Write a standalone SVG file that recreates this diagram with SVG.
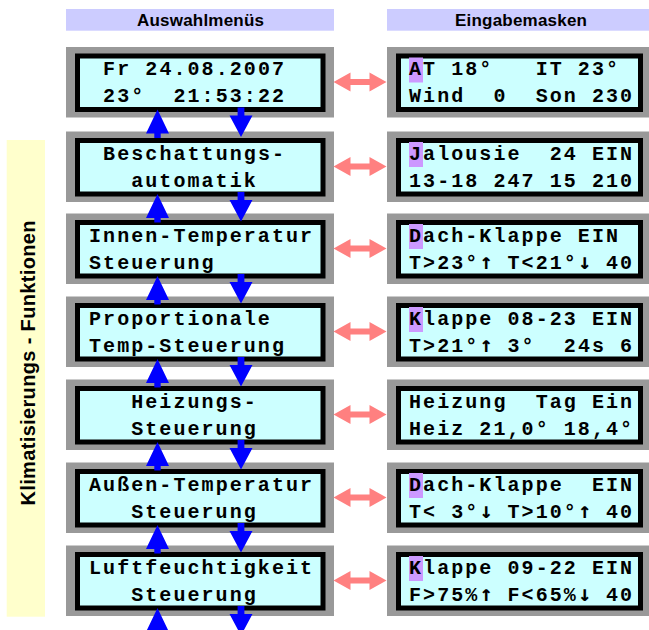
<svg xmlns="http://www.w3.org/2000/svg" xmlns:xlink="http://www.w3.org/1999/xlink" width="649" height="630" viewBox="0 0 649 630">
<style>
.hdr{fill:#CCCCFF}
.hdrt{font-family:"Liberation Sans",Arial,sans-serif;font-weight:bold;font-size:17px;fill:#000;text-anchor:middle}
.side{font-family:"Liberation Sans",Arial,sans-serif;font-weight:bold;font-size:20px;fill:#000;text-anchor:middle}
.gray{fill:#999999}
.lcd{fill:#CCFFFF;stroke:#000;stroke-width:5}
.hl{fill:#CC99FF}
.mono{font-family:"Liberation Mono","Courier New",monospace;font-weight:bold;font-size:20px;letter-spacing:2.07px;fill:#000;white-space:pre}
.ar{font-family:"DejaVu Sans Mono",monospace;font-weight:bold;font-size:22px;letter-spacing:0.83px}
.pink{fill:#FF8080}
.blue{fill:#0000FF}
</style>
<defs>
<path id="up" class="blue" d="M0,0 L11.5,24 L3.2,24 L3.2,28.5 L-3.2,28.5 L-3.2,24 L-11.5,24 Z"/>
<path id="down" class="blue" d="M-3.4,0 L3.4,0 L3.4,8 L11.5,8 L0,29.5 L-11.5,8 L-3.4,8 Z"/>
<path id="dbl" class="pink" d="M333.5,28.5 L350.5,19 L350.5,25.5 L369.5,25.5 L369.5,19 L386.5,28.5 L369.5,38 L369.5,31.5 L350.5,31.5 L350.5,38 Z"/>
</defs>

<g id="header-left"><rect class="hdr" x="66" y="9" width="268" height="21.7"/><text class="hdrt" x="200.5" y="26" textLength="127">Auswahlmenüs</text></g>
<g id="header-right"><rect class="hdr" x="387" y="9" width="262" height="21.7"/><text class="hdrt" x="521" y="26" textLength="132">Eingabemasken</text></g>

<g id="side-label"><rect x="6.7" y="140" width="38.3" height="476.7" fill="#FFFFCC"/><text class="side" transform="translate(34.5,363) rotate(-90)" x="0" y="0" textLength="285">Klimatisierungs - Funktionen</text></g>

<g id="menu1" transform="translate(0,53.5)"><rect class="gray" x="66" y="-6.5" width="268" height="70.5"/><rect class="lcd" x="77.5" y="2.5" width="245.5" height="53.5"/><text class="mono" xml:space="preserve" x="103.1" y="21.5">Fr 24.08.2007</text><text class="mono" xml:space="preserve" x="103.1" y="48.5">23°  21:53:22</text></g>
<g id="mask1" transform="translate(0,53.5)"><rect class="gray" x="387" y="-6.5" width="262" height="70.5"/><rect class="lcd" x="398.5" y="2.5" width="242" height="53.5"/><rect class="hl" x="409" y="4" width="14" height="25"/><text class="mono" xml:space="preserve" x="409" y="21.5">AT 18°   IT 23°</text><text class="mono" xml:space="preserve" x="409" y="48.5">Wind  0  Son 230</text></g>

<g id="menu2" transform="translate(0,138)"><rect class="gray" x="66" y="-6.5" width="268" height="70.5"/><rect class="lcd" x="77.5" y="2.5" width="245.5" height="53.5"/><text class="mono" xml:space="preserve" x="103.1" y="21.5">Beschattungs-</text><text class="mono" xml:space="preserve" x="131.2" y="48.5">automatik</text></g>
<g id="mask2" transform="translate(0,138)"><rect class="gray" x="387" y="-6.5" width="262" height="70.5"/><rect class="lcd" x="398.5" y="2.5" width="242" height="53.5"/><rect class="hl" x="409" y="4" width="14" height="25"/><text class="mono" xml:space="preserve" x="409" y="21.5">Jalousie  24 EIN</text><text class="mono" xml:space="preserve" x="409" y="48.5">13-18 247 15 210</text></g>

<g id="menu3" transform="translate(0,220)"><rect class="gray" x="66" y="-6.5" width="268" height="70.5"/><rect class="lcd" x="77.5" y="2.5" width="245.5" height="53.5"/><text class="mono" xml:space="preserve" x="89" y="21.5">Innen-Temperatur</text><text class="mono" xml:space="preserve" x="89" y="48.5">Steuerung</text></g>
<g id="mask3" transform="translate(0,220)"><rect class="gray" x="387" y="-6.5" width="262" height="70.5"/><rect class="lcd" x="398.5" y="2.5" width="242" height="53.5"/><rect class="hl" x="409" y="4" width="14" height="25"/><text class="mono" xml:space="preserve" x="409" y="21.5">Dach-Klappe EIN</text><text class="mono" xml:space="preserve" x="409" y="48.5">T&gt;23°<tspan class="ar">↑</tspan> T&lt;21°<tspan class="ar">↓</tspan> 40</text></g>

<g id="menu4" transform="translate(0,303)"><rect class="gray" x="66" y="-6.5" width="268" height="70.5"/><rect class="lcd" x="77.5" y="2.5" width="245.5" height="53.5"/><text class="mono" xml:space="preserve" x="89" y="21.5">Proportionale</text><text class="mono" xml:space="preserve" x="89" y="48.5">Temp-Steuerung</text></g>
<g id="mask4" transform="translate(0,303)"><rect class="gray" x="387" y="-6.5" width="262" height="70.5"/><rect class="lcd" x="398.5" y="2.5" width="242" height="53.5"/><rect class="hl" x="409" y="4" width="14" height="25"/><text class="mono" xml:space="preserve" x="409" y="21.5">Klappe 08-23 EIN</text><text class="mono" xml:space="preserve" x="409" y="48.5">T&gt;21°<tspan class="ar">↑</tspan> 3°  24s 6</text></g>

<g id="menu5" transform="translate(0,386)"><rect class="gray" x="66" y="-6.5" width="268" height="70.5"/><rect class="lcd" x="77.5" y="2.5" width="245.5" height="53.5"/><text class="mono" xml:space="preserve" x="131.2" y="21.5">Heizungs-</text><text class="mono" xml:space="preserve" x="131.2" y="48.5">Steuerung</text></g>
<g id="mask5" transform="translate(0,386)"><rect class="gray" x="387" y="-6.5" width="262" height="70.5"/><rect class="lcd" x="398.5" y="2.5" width="242" height="53.5"/><text class="mono" xml:space="preserve" x="409" y="21.5">Heizung  Tag Ein</text><text class="mono" xml:space="preserve" x="409" y="48.5">Heiz 21,0° 18,4°</text></g>

<g id="menu6" transform="translate(0,469)"><rect class="gray" x="66" y="-6.5" width="268" height="70.5"/><rect class="lcd" x="77.5" y="2.5" width="245.5" height="53.5"/><text class="mono" xml:space="preserve" x="89" y="21.5">Außen-Temperatur</text><text class="mono" xml:space="preserve" x="131.2" y="48.5">Steuerung</text></g>
<g id="mask6" transform="translate(0,469)"><rect class="gray" x="387" y="-6.5" width="262" height="70.5"/><rect class="lcd" x="398.5" y="2.5" width="242" height="53.5"/><rect class="hl" x="409" y="4" width="14" height="25"/><text class="mono" xml:space="preserve" x="409" y="21.5">Dach-Klappe  EIN</text><text class="mono" xml:space="preserve" x="409" y="48.5">T&lt; 3°<tspan class="ar">↓</tspan> T&gt;10°<tspan class="ar">↑</tspan> 40</text></g>

<g id="menu7" transform="translate(0,552)"><rect class="gray" x="66" y="-6.5" width="268" height="70.5"/><rect class="lcd" x="77.5" y="2.5" width="245.5" height="53.5"/><text class="mono" xml:space="preserve" x="89" y="21.5">Luftfeuchtigkeit</text><text class="mono" xml:space="preserve" x="131.2" y="48.5">Steuerung</text></g>
<g id="mask7" transform="translate(0,552)"><rect class="gray" x="387" y="-6.5" width="262" height="70.5"/><rect class="lcd" x="398.5" y="2.5" width="242" height="53.5"/><rect class="hl" x="409" y="4" width="14" height="25"/><text class="mono" xml:space="preserve" x="409" y="21.5">Klappe 09-22 EIN</text><text class="mono" xml:space="preserve" x="409" y="48.5">F&gt;75%<tspan class="ar">↑</tspan> F&lt;65%<tspan class="ar">↓</tspan> 40</text></g>

<g id="connectors">
<use xlink:href="#dbl" y="53.5"/>
<use xlink:href="#dbl" y="138"/>
<use xlink:href="#dbl" y="220"/>
<use xlink:href="#dbl" y="303"/>
<use xlink:href="#dbl" y="386"/>
<use xlink:href="#dbl" y="469"/>
<use xlink:href="#dbl" y="552"/>
<use xlink:href="#up" x="157.5" y="109.5"/><use xlink:href="#down" x="241" y="107.5"/>
<use xlink:href="#up" x="157.5" y="194"/><use xlink:href="#down" x="241" y="192"/>
<use xlink:href="#up" x="157.5" y="276"/><use xlink:href="#down" x="241" y="274"/>
<use xlink:href="#up" x="157.5" y="359"/><use xlink:href="#down" x="241" y="357"/>
<use xlink:href="#up" x="157.5" y="442"/><use xlink:href="#down" x="241" y="440"/>
<use xlink:href="#up" x="157.5" y="525"/><use xlink:href="#down" x="241" y="523"/>
<use xlink:href="#up" x="157.5" y="608"/><use xlink:href="#down" x="241" y="606"/>
</g>
</svg>
